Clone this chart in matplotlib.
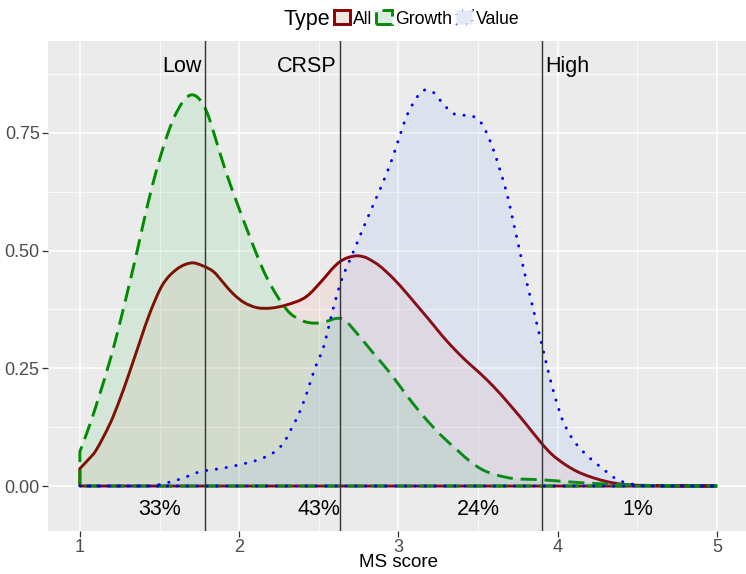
import matplotlib.pyplot as plt
from matplotlib.patches import Patch, PathPatch
from matplotlib.path import Path

plt.rcParams['font.family'] = ['Liberation Sans', 'DejaVu Sans']

# density of MS score by portfolio type
all_x = [1.00, 1.05, 1.10, 1.19, 1.25, 1.31, 1.38, 1.44, 1.52, 1.61, 1.70, 1.77,
         1.84, 1.90, 1.96, 2.03, 2.11, 2.20, 2.30, 2.42, 2.53, 2.58, 2.63, 2.68,
         2.74, 2.78, 2.81, 2.88, 2.97, 3.05, 3.12, 3.20, 3.28, 3.37, 3.45, 3.51,
         3.60, 3.68, 3.79, 3.89, 3.96, 4.04, 4.12, 4.20, 4.30, 4.40, 4.55, 5.00]
all_y = [0.037, 0.055, 0.075, 0.133, 0.183, 0.240, 0.310, 0.368, 0.428, 0.461, 0.474, 0.468,
         0.455, 0.432, 0.409, 0.390, 0.379, 0.378, 0.385, 0.402, 0.440, 0.460, 0.476, 0.485,
         0.489, 0.487, 0.483, 0.468, 0.440, 0.410, 0.382, 0.350, 0.317, 0.284, 0.258, 0.240,
         0.210, 0.180, 0.136, 0.094, 0.068, 0.047, 0.031, 0.020, 0.010, 0.004, 0.001, 0.000]

growth_x = [1.00, 1.06, 1.12, 1.19, 1.25, 1.31, 1.36, 1.42, 1.48, 1.54, 1.59, 1.65,
            1.70, 1.75, 1.80, 1.85, 1.92, 2.05, 2.17, 2.30, 2.39, 2.47, 2.55, 2.61,
            2.66, 2.74, 2.84, 2.95, 3.05, 3.16, 3.26, 3.37, 3.45, 3.53, 3.62, 3.72,
            3.91, 4.06, 4.20, 4.39, 4.60, 5.00]
growth_y = [0.073, 0.128, 0.190, 0.268, 0.345, 0.428, 0.500, 0.590, 0.670, 0.737, 0.782, 0.818,
            0.831, 0.822, 0.792, 0.740, 0.664, 0.544, 0.445, 0.374, 0.352, 0.346, 0.350, 0.356,
            0.353, 0.324, 0.283, 0.239, 0.193, 0.147, 0.110, 0.076, 0.052, 0.034, 0.023, 0.016,
            0.013, 0.009, 0.006, 0.003, 0.001, 0.000]

value_x = [1.00, 1.45, 1.50, 1.56, 1.64, 1.75, 1.88, 2.00, 2.13, 2.22, 2.28, 2.32,
           2.37, 2.42, 2.47, 2.53, 2.57, 2.61, 2.65, 2.70, 2.75, 2.80, 2.85, 2.90,
           2.96, 3.01, 3.05, 3.08, 3.12, 3.16, 3.22, 3.28, 3.34, 3.40, 3.47, 3.52,
           3.56, 3.60, 3.64, 3.68, 3.72, 3.76, 3.80, 3.85, 3.90, 3.95, 3.99, 4.03,
           4.09, 4.17, 4.27, 4.37, 4.43, 4.50, 4.60, 5.00]
value_y = [0.000, 0.000, 0.003, 0.008, 0.016, 0.030, 0.037, 0.045, 0.057, 0.072, 0.092, 0.117,
           0.150, 0.193, 0.245, 0.296, 0.350, 0.402, 0.445, 0.484, 0.525, 0.565, 0.604, 0.643,
           0.695, 0.746, 0.785, 0.806, 0.828, 0.841, 0.836, 0.812, 0.792, 0.788, 0.785, 0.771,
           0.745, 0.710, 0.668, 0.622, 0.562, 0.501, 0.440, 0.370, 0.300, 0.230, 0.181, 0.140,
           0.101, 0.069, 0.040, 0.014, 0.007, 0.002, 0.000, 0.000]

types = ['All', 'Growth', 'Value']
line_colors = ['#8B0000', '#008B00', '#0000FF']
fill_colors = ['#F8766D', '#00BA38', '#619CFF']
key_fills = ['#F3E6E5', '#DAECDF', '#E4E9F3']
line_styles = ['-', (0, (5.5, 2.7)), (0, (0.1, 3.3))]

# breakpoints and share of stocks in each bucket
cut_points = [1.785, 2.633, 3.90]
cut_labels = ['Low', 'CRSP', 'High']
share_x = [1.5, 2.5, 3.5, 4.5]
share_labels = ['33%', '43%', '24%', '1%']


def density_path(x, y):
    """Closed outline: up the left edge, smooth cubic through the points, back along y=0."""
    n = len(x)
    slopes = []
    for i in range(n):
        a, b = max(i - 1, 0), min(i + 1, n - 1)
        slopes.append((y[b] - y[a]) / (x[b] - x[a]))
    verts = [(x[0], 0.0), (x[0], y[0])]
    codes = [Path.MOVETO, Path.LINETO]
    for i in range(n - 1):
        h = (x[i + 1] - x[i]) / 3
        verts += [(x[i] + h, max(y[i] + slopes[i] * h, 0)),
                  (x[i + 1] - h, max(y[i + 1] - slopes[i + 1] * h, 0)),
                  (x[i + 1], y[i + 1])]
        codes += [Path.CURVE4] * 3
    verts += [(x[-1], 0.0), (x[0], 0.0)]
    codes += [Path.LINETO, Path.LINETO]
    return Path(verts, codes)


fig = plt.figure(figsize=(7.46, 5.74), dpi=100)
ax = fig.add_axes([48 / 746, 1 - 531 / 574, 701 / 746, 490 / 574])
ax.set_facecolor('#EBEBEB')
for s in ax.spines.values():
    s.set_visible(False)

series = [(all_x, all_y), (growth_x, growth_y), (value_x, value_y)]
for i, (x, y) in enumerate(series):
    z = 2 + i
    path = density_path(x, y)
    ax.add_patch(PathPatch(path, facecolor=fill_colors[i], alpha=0.1, lw=0, zorder=z))
    ax.add_patch(PathPatch(path, facecolor='none', edgecolor=line_colors[i],
                           linestyle=line_styles[i], lw=2.1,
                           capstyle='round' if i == 2 else 'butt', zorder=z + 0.5))

for c, lab in zip(cut_points, cut_labels):
    ax.axvline(c, color='#333333', lw=1.0, zorder=10)
    if lab == 'High':
        ax.text(c + 0.02, 0.880, lab, ha='left', va='baseline', fontsize=15.5, zorder=11)
    else:
        ax.text(c - 0.02, 0.880, lab, ha='right', va='baseline', fontsize=15.5, zorder=11)

for sx, lab in zip(share_x, share_labels):
    ax.text(sx, -0.050, lab, ha='center', va='center', fontsize=15.5, zorder=11)

ax.set_xlim(0.8, 5.2)
ax.set_ylim(-0.0956, 0.9454)
ax.set_xticks([1, 2, 3, 4, 5])
ax.set_xticks([1.5, 2.5, 3.5, 4.5], minor=True)
ax.set_yticks([0, 0.25, 0.5, 0.75])
ax.set_yticklabels(['0.00', '0.25', '0.50', '0.75'])
ax.set_yticks([0.125, 0.375, 0.625, 0.875], minor=True)
ax.grid(which='major', color='white', lw=1.1, zorder=0)
ax.grid(which='minor', color='white', lw=0.55, zorder=0)
ax.set_axisbelow(True)
ax.tick_params(which='major', length=4, width=0.9, color='#333333',
               labelcolor='#4D4D4D', labelsize=13)
ax.tick_params(axis='x', which='major', pad=1.5)
ax.tick_params(axis='y', which='major', pad=2)
ax.tick_params(which='minor', length=0)
ax.set_xlabel('MS score', fontsize=13.5, va='baseline')
ax.xaxis.set_label_coords(0.5, -(567 - 531) / 490)

handles = [Patch(facecolor=key_fills[i], edgecolor=line_colors[i],
                 linestyle=line_styles[i], lw=2.1) for i in range(3)]
fig.legend(handles, types, ncol=3, loc='center left',
           bbox_to_anchor=(334 / 746, 1 - 19 / 574), frameon=False,
           fontsize=12.7, handlelength=0.9, handleheight=0.85,
           handletextpad=0.2, columnspacing=0.2, borderpad=0, borderaxespad=0)
fig.text(330 / 746, 1 - 19 / 574, 'Type', ha='right', va='center', fontsize=15.5)

fig.savefig('out.png', dpi=100)
